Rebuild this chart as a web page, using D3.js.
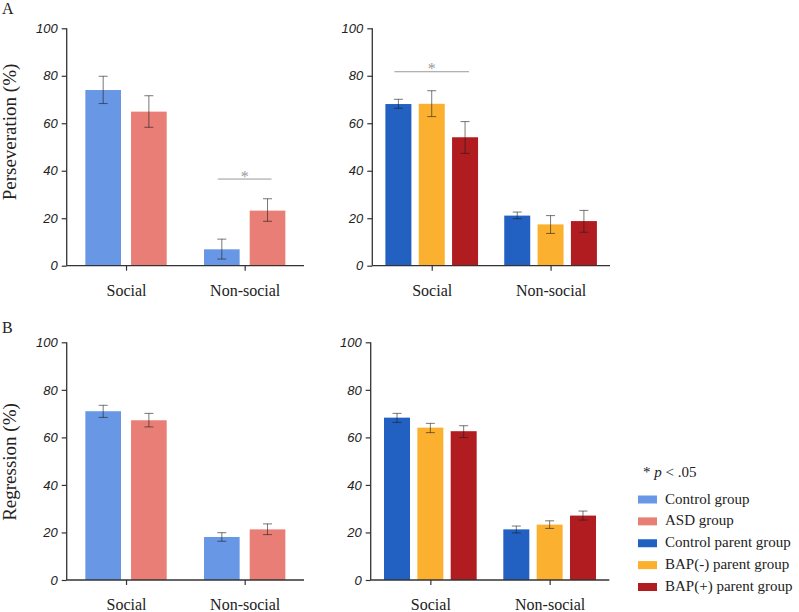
<!DOCTYPE html>
<html>
<head>
<meta charset="utf-8">
<script src="https://cdn.jsdelivr.net/npm/d3@7"></script>
<style>
  html, body { margin: 0; padding: 0; background: #fff; }
  svg { display: block; }
</style>
</head>
<body>
<svg id="chart" width="799" height="612"></svg>
<script>
// ---------------- DATA ----------------
const categories = ["Social", "Non-social"];
const yTicks = [0, 20, 40, 60, 80, 100];

const childSeries = ["Control group", "ASD group"];
const parentSeries = ["Control parent group", "BAP(-) parent group", "BAP(+) parent group"];

// Perseveration (%) – children  [Social, Non-social]
const persevChildMean  = { "Control group": [74.0, 6.9], "ASD group": [64.9, 23.2] };
const persevChildLow   = { "Control group": [68.3, 2.8], "ASD group": [58.3, 18.7] };
const persevChildHigh  = { "Control group": [79.8, 11.2], "ASD group": [71.6, 28.2] };

// Perseveration (%) – parents
const persevParentMean = { "Control parent group": [68.1, 21.1], "BAP(-) parent group": [68.2, 17.4], "BAP(+) parent group": [54.1, 18.8] };
const persevParentLow  = { "Control parent group": [66.3, 19.8], "BAP(-) parent group": [62.8, 13.6], "BAP(+) parent group": [47.3, 14.1] };
const persevParentHigh = { "Control parent group": [70.1, 22.6], "BAP(-) parent group": [73.7, 21.1], "BAP(+) parent group": [60.7, 23.3] };

// Regression (%) – children
const regrChildMean  = { "Control group": [71.0, 18.1], "ASD group": [67.2, 21.3] };
const regrChildLow   = { "Control group": [68.4, 16.3], "ASD group": [64.4, 19.1] };
const regrChildHigh  = { "Control group": [73.5, 19.9], "ASD group": [70.1, 23.6] };

// Regression (%) – parents
const regrParentMean = { "Control parent group": [68.3, 21.3], "BAP(-) parent group": [64.1, 23.3], "BAP(+) parent group": [62.6, 27.1] };
const regrParentLow  = { "Control parent group": [66.3, 19.8], "BAP(-) parent group": [62.0, 21.7], "BAP(+) parent group": [59.9, 25.2] };
const regrParentHigh = { "Control parent group": [70.1, 22.7], "BAP(-) parent group": [65.9, 24.9], "BAP(+) parent group": [64.9, 29.0] };

// significance brackets: category, from series, to series, y value
const persevChildSig  = [{ cat: "Non-social", from: "Control group", to: "ASD group", y: 36.5 }];
const persevParentSig = [{ cat: "Social", from: "Control parent group", to: "BAP(+) parent group", y: 81.7 }];

const legendLabels = ["Control group", "ASD group", "Control parent group", "BAP(-) parent group", "BAP(+) parent group"];
const colors = {
  "Control group": "#6898E5",
  "ASD group": "#E97E77",
  "Control parent group": "#2260C2",
  "BAP(-) parent group": "#FBB12F",
  "BAP(+) parent group": "#B01C20"
};

// ---------------- DRAW ----------------
const svg = d3.select("#chart");
const serif = "Liberation Serif";
const sans = "Liberation Sans";

function panel(cfg) {
  const g = svg.append("g");
  const y = d3.scaleLinear().domain([0, 100]).range([cfg.yBot, cfg.yTop]);
  const x = d3.scalePoint().domain(categories).range([cfg.x0, cfg.x1]).padding(0.5);
  const inner = d3.scaleBand().domain(cfg.series)
    .range([-cfg.groupHalf, cfg.groupHalf]).paddingInner(0.22).paddingOuter(0.11);

  const rows = [];
  cfg.series.forEach(s => categories.forEach((c, i) => {
    rows.push({ s, c, v: cfg.mean[s][i], lo: cfg.low[s][i], hi: cfg.high[s][i] });
  }));

  g.selectAll("rect.bar").data(rows).join("rect")
    .attr("class", "bar")
    .attr("x", d => x(d.c) + inner(d.s))
    .attr("width", inner.bandwidth())
    .attr("y", d => y(d.v))
    .attr("height", d => y(0) - y(d.v))
    .attr("fill", d => colors[d.s]);

  const eb = g.selectAll("g.err").data(rows).join("g").attr("class", "err")
    .attr("stroke", "rgba(30,30,30,0.6)").attr("stroke-width", 1).attr("fill", "none");
  const cx = d => x(d.c) + inner(d.s) + inner.bandwidth() / 2;
  eb.append("line").attr("x1", cx).attr("x2", cx).attr("y1", d => y(d.lo)).attr("y2", d => y(d.hi));
  eb.append("line").attr("x1", d => cx(d) - 4.5).attr("x2", d => cx(d) + 4.5).attr("y1", d => y(d.hi)).attr("y2", d => y(d.hi));
  eb.append("line").attr("x1", d => cx(d) - 4.5).attr("x2", d => cx(d) + 4.5).attr("y1", d => y(d.lo)).attr("y2", d => y(d.lo));

  (cfg.sig || []).forEach(sg => {
    const xa = x(sg.cat) + inner(sg.from) + inner.bandwidth() / 2 - 4;
    const xb = x(sg.cat) + inner(sg.to) + inner.bandwidth() / 2 + 4;
    g.append("line").attr("x1", xa).attr("x2", xb).attr("y1", y(sg.y)).attr("y2", y(sg.y))
      .attr("stroke", "#9a9a9a").attr("stroke-width", 1);
    g.append("text").attr("x", (xa + xb) / 2).attr("y", y(sg.y) + 2.5)
      .attr("text-anchor", "middle")
      .style("font-family", serif).style("font-size", "16px")
      .style("fill", "#9a9a9a").text("*");
  });

  const ya = g.append("g").attr("transform", `translate(${cfg.x0},0)`)
    .call(d3.axisLeft(y).tickValues(yTicks).tickSize(5).tickPadding(4));
  ya.select(".domain").attr("stroke", "#333").attr("stroke-width", 1.3).attr("d", `M0,${cfg.yTop}V${cfg.yBot}`);
  ya.selectAll(".tick line").attr("stroke", "#333").attr("stroke-width", 1.2);
  ya.selectAll(".tick text")
    .style("font-family", sans).style("font-style", "italic")
    .style("font-size", "13px").style("fill", "#222");

  const xa = g.append("g").attr("transform", `translate(0,${cfg.yBot})`)
    .call(d3.axisBottom(x).tickSize(5).tickPadding(14));
  xa.select(".domain").attr("stroke", "#333").attr("stroke-width", 1.3).attr("d", `M${cfg.x0},0H${cfg.x1}`);
  xa.selectAll(".tick line").attr("stroke", "#333").attr("stroke-width", 1.2);
  xa.selectAll(".tick text")
    .style("font-family", serif).style("font-size", "16px").style("fill", "#222")
    .attr("dy", "0.71em");

  if (cfg.yLabel) {
    g.append("text").attr("transform", `translate(${cfg.yLabelX},${cfg.yLabelY}) rotate(-90)`)
      .attr("text-anchor", "middle")
      .style("font-family", serif).style("font-size", "19px").style("fill", "#222")
      .text(cfg.yLabel);
  }
}

panel({ x0: 66.7, x1: 304, yTop: 28.3, yBot: 265.7, groupHalf: 45.7, series: childSeries,
  mean: persevChildMean, low: persevChildLow, high: persevChildHigh, sig: persevChildSig,
  yLabel: "Perseveration (%)", yLabelX: 16, yLabelY: 132 });
panel({ x0: 372.3, x1: 610, yTop: 28.3, yBot: 265.7, groupHalf: 50, series: parentSeries,
  mean: persevParentMean, low: persevParentLow, high: persevParentHigh, sig: persevParentSig });
panel({ x0: 66.7, x1: 304, yTop: 342.3, yBot: 580, groupHalf: 45.7, series: childSeries,
  mean: regrChildMean, low: regrChildLow, high: regrChildHigh,
  yLabel: "Regression (%)", yLabelX: 16, yLabelY: 462 });
panel({ x0: 370.7, x1: 609.3, yTop: 342.3, yBot: 580, groupHalf: 50, series: parentSeries,
  mean: regrParentMean, low: regrParentLow, high: regrParentHigh });

// panel letters
svg.append("text").attr("x", 2).attr("y", 14)
  .style("font-family", serif).style("font-size", "16px").style("fill", "#222").text("A");
svg.append("text").attr("x", 2).attr("y", 333)
  .style("font-family", serif).style("font-size", "16px").style("fill", "#222").text("B");

// legend
const lg = svg.append("g");
const pt = lg.append("text").attr("x", 643).attr("y", 477)
  .style("font-family", serif).style("font-size", "15px").style("fill", "#222");
pt.append("tspan").text("* ");
pt.append("tspan").style("font-style", "italic").text("p");
pt.append("tspan").text(" < .05");

const ly = d3.scalePoint().domain(legendLabels).range([503.5, 591]);
const items = lg.selectAll("g.item").data(legendLabels).join("g").attr("class", "item");
items.append("rect").attr("x", 638).attr("y", d => ly(d) - 8).attr("width", 19).attr("height", 8)
  .attr("fill", d => colors[d]);
items.append("text").attr("x", 665).attr("y", d => ly(d))
  .style("font-family", serif).style("font-size", "15px").style("fill", "#222")
  .text(d => d);
</script>
</body>
</html>
